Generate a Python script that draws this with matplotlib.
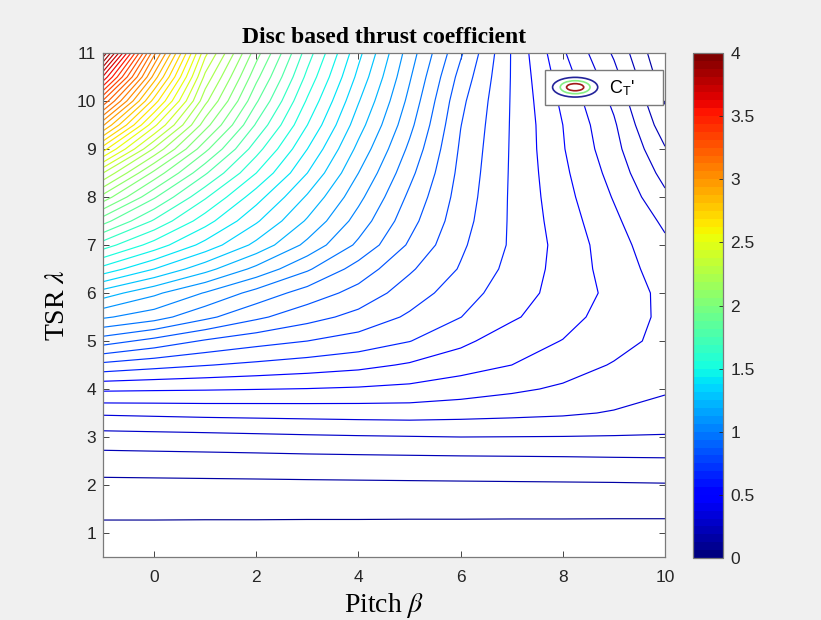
import numpy as np
import matplotlib
matplotlib.use('Agg')
import matplotlib.pyplot as plt
from matplotlib.colors import Normalize
from matplotlib.cm import ScalarMappable
from matplotlib.legend_handler import HandlerBase
from matplotlib.patches import Ellipse
from matplotlib.lines import Line2D

plt.rcParams['mathtext.fontset'] = 'stix'

# pitch angle (deg) and tip speed ratio grid
pitch = [-1, 0, 1, 2, 3, 4, 5, 6, 7, 8, 9, 10]
tsr = [0.5, 1.0, 1.5, 2.0, 2.5, 3.0, 3.5, 4.0, 4.5, 5.0, 5.5,
       6.0, 6.5, 7.0, 7.5, 8.0, 8.5, 9.0, 9.5, 10.0, 10.5, 11.0]

# disc based thrust coefficient CT', one row per tsr value
ct_disc = [
    [0.010, 0.010, 0.010, 0.010, 0.010, 0.010, 0.010, 0.010, 0.010, 0.010, 0.010, 0.010],
    [0.050, 0.050, 0.049, 0.049, 0.048, 0.048, 0.047, 0.047, 0.046, 0.046, 0.045, 0.045],
    [0.087, 0.087, 0.087, 0.087, 0.087, 0.087, 0.087, 0.087, 0.087, 0.087, 0.087, 0.087],
    [0.123, 0.124, 0.125, 0.126, 0.127, 0.128, 0.129, 0.130, 0.131, 0.132, 0.133, 0.135],
    [0.176, 0.178, 0.180, 0.182, 0.185, 0.187, 0.189, 0.191, 0.193, 0.195, 0.198, 0.200],
    [0.252, 0.256, 0.260, 0.265, 0.270, 0.274, 0.277, 0.280, 0.279, 0.278, 0.276, 0.275],
    [0.360, 0.365, 0.370, 0.373, 0.376, 0.379, 0.381, 0.375, 0.368, 0.360, 0.345, 0.320],
    [0.503, 0.499, 0.496, 0.492, 0.488, 0.482, 0.473, 0.454, 0.432, 0.410, 0.385, 0.360],
    [0.680, 0.654, 0.633, 0.615, 0.598, 0.580, 0.552, 0.519, 0.490, 0.451, 0.415, 0.385],
    [0.873, 0.817, 0.762, 0.726, 0.700, 0.671, 0.632, 0.577, 0.520, 0.488, 0.445, 0.400],
    [1.060, 1.010, 0.927, 0.854, 0.796, 0.748, 0.689, 0.631, 0.570, 0.515, 0.460, 0.405],
    [1.227, 1.135, 1.045, 0.955, 0.880, 0.815, 0.735, 0.663, 0.590, 0.535, 0.470, 0.400],
    [1.445, 1.330, 1.215, 1.100, 0.990, 0.880, 0.780, 0.694, 0.608, 0.535, 0.458, 0.385],
    [1.645, 1.510, 1.375, 1.240, 1.100, 0.965, 0.830, 0.712, 0.620, 0.535, 0.450, 0.365],
    [1.848, 1.670, 1.500, 1.340, 1.180, 1.020, 0.865, 0.728, 0.620, 0.525, 0.435, 0.335],
    [2.074, 1.830, 1.620, 1.430, 1.250, 1.070, 0.895, 0.740, 0.620, 0.515, 0.415, 0.295],
    [2.310, 2.010, 1.760, 1.540, 1.330, 1.120, 0.930, 0.750, 0.621, 0.505, 0.395, 0.255],
    [2.620, 2.230, 1.910, 1.640, 1.400, 1.170, 0.965, 0.760, 0.622, 0.495, 0.375, 0.215],
    [2.950, 2.470, 2.060, 1.740, 1.470, 1.220, 1.000, 0.772, 0.623, 0.490, 0.360, 0.170],
    [3.280, 2.700, 2.190, 1.830, 1.530, 1.265, 1.030, 0.788, 0.624, 0.475, 0.335, 0.135],
    [3.630, 2.910, 2.290, 1.910, 1.590, 1.310, 1.058, 0.815, 0.625, 0.455, 0.305, 0.098],
    [3.980, 3.100, 2.400, 1.990, 1.645, 1.350, 1.085, 0.850, 0.625, 0.430, 0.270, 0.072],
]

levels = np.arange(1, 57) * 0.07
cbar_ticks = [0, 0.5, 1, 1.5, 2, 2.5, 3, 3.5, 4]

jet64 = plt.get_cmap('jet', 64)
norm = Normalize(vmin=0, vmax=4)


class ContourIcon(HandlerBase):
    # three nested ellipses, like a small contour map
    def create_artists(self, legend, orig_handle, xdescent, ydescent,
                       width, height, fontsize, trans):
        cx = width / 2 - xdescent
        cy = height / 2 - ydescent
        out = []
        for sw, sh, col in [(1.0, 1.0, '#23239a'), (0.66, 0.66, '#86ee86'), (0.38, 0.36, '#a01818')]:
            e = Ellipse((cx, cy), width * sw, height * sh,
                        fill=False, edgecolor=col, linewidth=1.2, transform=trans)
            out.append(e)
        return out


fig = plt.figure(figsize=(8.21, 6.2), dpi=100, facecolor='#f0f0f0')
ax = fig.add_axes([0.1255, 0.1016, 0.6845, 0.8129])
ax.set_facecolor('white')

ax.contour(pitch, tsr, np.array(ct_disc), levels=levels, cmap=jet64, norm=norm,
           linewidths=0.85)

ax.set_xlim(-1, 10)
ax.set_ylim(0.5, 11)
ax.set_xticks([0, 2, 4, 6, 8, 10])
ax.set_yticks(range(1, 12))
ax.tick_params(direction='in', top=True, right=True, length=4, width=0.6,
               colors='#262626', labelsize=12.5)
ax.tick_params(axis='x', pad=9)
ax.tick_params(axis='y', pad=5)
for lab in ax.get_xticklabels() + ax.get_yticklabels():
    lab.set_fontfamily('Liberation Sans')
for sp in ax.spines.values():
    sp.set_color('#7a7a7a')
    sp.set_linewidth(0.9)

ax.set_title('Disc based thrust coefficient', fontfamily='Liberation Serif',
             fontweight='bold', fontsize=17, pad=7)
ax.set_xlabel(r'Pitch $\beta$', fontfamily='Liberation Serif', fontsize=20, labelpad=5)
ax.set_ylabel(r'TSR $\lambda$', fontfamily='Liberation Serif', fontsize=20, labelpad=5)

proxy = Line2D([], [])
leg = ax.legend([proxy], [r"C$_\mathregular{T}$'     "], handler_map={proxy: ContourIcon()},
                loc='upper right', bbox_to_anchor=(0.9964, 0.966), borderaxespad=0,
                fancybox=False, framealpha=1, edgecolor='#7a7a7a',
                prop={'family': 'Liberation Sans', 'size': 13},
                handlelength=2.5, handleheight=1.3, handletextpad=0.6,
                borderpad=0.4)
leg.get_frame().set_linewidth(1.0)

cax = fig.add_axes([0.8437, 0.1, 0.0373, 0.8145])
cb = fig.colorbar(ScalarMappable(norm=norm, cmap=jet64), cax=cax)
cb.set_ticks(cbar_ticks)
cb.set_ticklabels(['0', '0.5', '1', '1.5', '2', '2.5', '3', '3.5', '4'])
cb.outline.set_edgecolor('#7a7a7a')
cb.outline.set_linewidth(0.9)
cax.tick_params(direction='in', length=3, width=0.6, colors='#262626',
                labelsize=12.5, pad=5)
for lab in cax.get_yticklabels():
    lab.set_fontfamily('Liberation Sans')

fig.savefig('out.png', dpi=100, facecolor=fig.get_facecolor())
